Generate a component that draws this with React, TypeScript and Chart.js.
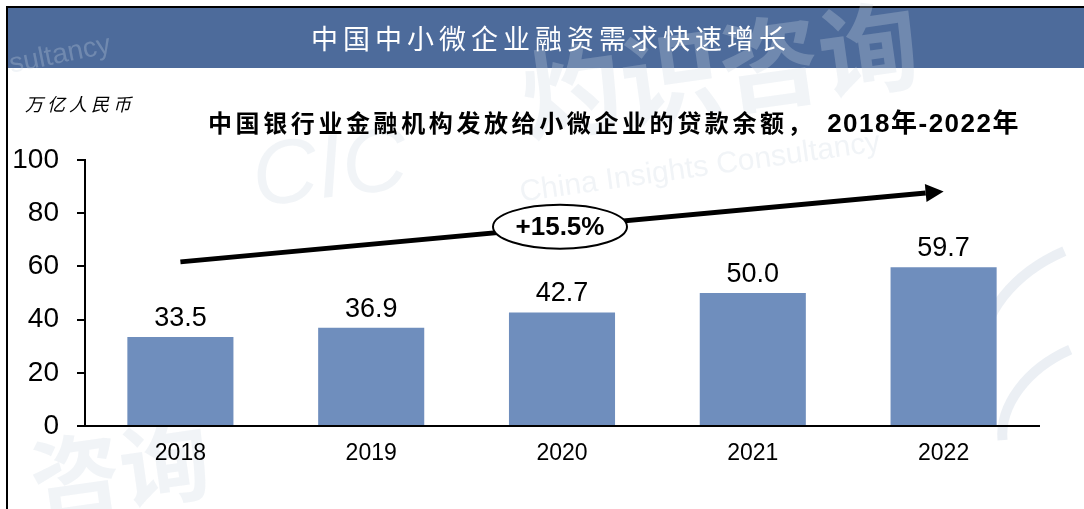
import React, { useEffect, useRef } from "react";
import { Chart, registerables } from "chart.js";

Chart.register(...registerables);

const categories = ["2018", "2019", "2020", "2021", "2022"];
const loanBalance = [33.5, 36.9, 42.7, 50.0, 59.7];
const yTicks = [0, 20, 40, 60, 80, 100];
const cagrLabel = "+15.5%";
const arrowFrom = [0, 61.7]; // [category index, value]
const arrowTo = [4, 88.2];
const headerTitle = "中国中小微企业融资需求快速增长";
const subTitle = "中国银行业金融机构发放给小微企业的贷款余额，";
const subTitleYears = "2018年-2022年";
const unitLabel = "万亿人民币";

const W = 1084;
const H = 509;

const framePlugin = {
  id: "frame",
  beforeDraw(chart: any) {
    const ctx = chart.ctx;
    ctx.save();
    ctx.fillStyle = "#ffffff";
    ctx.fillRect(0, 0, W, H);
    // header band
    ctx.fillStyle = "#4d6b9b";
    ctx.fillRect(8, 8, W - 8, 60);
    // frame lines
    ctx.fillStyle = "#000000";
    ctx.fillRect(6, 6, W - 6, 2);
    ctx.fillRect(6, 6, 2, H - 6);

    // watermarks
    ctx.fillStyle = "rgba(205,214,228,0.28)";
    ctx.textAlign = "center";
    ctx.textBaseline = "middle";
    ctx.save();
    ctx.translate(330, 172);
    ctx.rotate(-0.12);
    ctx.font = "italic 90px 'Liberation Sans', sans-serif";
    ctx.fillText("CIC", 0, 0);
    ctx.restore();
    ctx.save();
    ctx.translate(700, 168);
    ctx.rotate(-0.14);
    ctx.font = "30px 'Liberation Sans', sans-serif";
    ctx.fillText("China Insights Consultancy", 0, 0);
    ctx.restore();
    ctx.save();
    ctx.translate(720, 70);
    ctx.rotate(-0.14);
    ctx.font = "bold 100px 'Noto Sans CJK SC', sans-serif";
    ctx.fillText("灼识咨询", 0, 0);
    ctx.restore();
    ctx.save();
    ctx.translate(120, 470);
    ctx.rotate(-0.14);
    ctx.font = "bold 90px 'Noto Sans CJK SC', sans-serif";
    ctx.fillText("咨询", 0, 0);
    ctx.restore();
    ctx.save();
    ctx.translate(60, 55);
    ctx.rotate(-0.2);
    ctx.font = "28px 'Liberation Sans', sans-serif";
    ctx.fillText("sultancy", 0, 0);
    ctx.restore();
    ctx.strokeStyle = "rgba(205,214,228,0.4)";
    ctx.lineWidth = 10;
    ctx.beginPath();
    ctx.ellipse(1110, 330, 130, 90, -0.3, Math.PI * 1.05, Math.PI * 1.45);
    ctx.stroke();
    ctx.beginPath();
    ctx.ellipse(1110, 420, 110, 80, -0.3, Math.PI * 1.05, Math.PI * 1.45);
    ctx.stroke();

    // header title
    ctx.fillStyle = "#ffffff";
    ctx.textAlign = "center";
    ctx.textBaseline = "middle";
    ctx.font = "27px 'Noto Sans CJK SC', sans-serif";
    (ctx as any).letterSpacing = "5px";
    ctx.fillText(headerTitle, 551, 39);
    // unit label
    ctx.fillStyle = "#000000";
    ctx.textAlign = "left";
    ctx.font = "italic 18px 'Noto Sans CJK SC', sans-serif";
    (ctx as any).letterSpacing = "4px";
    ctx.fillText(unitLabel, 25, 104);
    // subtitle
    (ctx as any).letterSpacing = "3.6px";
    ctx.font = "bold 24px 'Liberation Sans', 'Noto Sans CJK SC', sans-serif";
    ctx.fillText(subTitle, 208, 125);
    (ctx as any).letterSpacing = "1.5px";
    ctx.textAlign = "right";
    ctx.font = "bold 26px 'Liberation Sans', 'Noto Sans CJK SC', sans-serif";
    ctx.fillText(subTitleYears, 1020, 125);
    ctx.restore();
  },
  afterDatasetsDraw(chart: any) {
    const ctx = chart.ctx;
    const xs = chart.scales.x;
    const ys = chart.scales.y;
    ctx.save();
    // data labels
    const meta = chart.getDatasetMeta(0);
    ctx.fillStyle = "#000000";
    ctx.font = "27px 'Liberation Sans', sans-serif";
    ctx.textAlign = "center";
    ctx.textBaseline = "alphabetic";
    meta.data.forEach((bar: any, i: number) => {
      ctx.fillText(loanBalance[i].toFixed(1), bar.x, bar.y - 11);
    });
    // CAGR arrow
    const x0 = xs.getPixelForValue(arrowFrom[0]);
    const y0 = ys.getPixelForValue(arrowFrom[1]);
    const x1 = xs.getPixelForValue(arrowTo[0]);
    const y1 = ys.getPixelForValue(arrowTo[1]);
    const ang = Math.atan2(y1 - y0, x1 - x0);
    const headLen = 18;
    const headHalf = 9;
    const bx = x1 - headLen * Math.cos(ang);
    const by = y1 - headLen * Math.sin(ang);
    ctx.strokeStyle = "#000000";
    ctx.lineWidth = 5;
    ctx.beginPath();
    ctx.moveTo(x0, y0);
    ctx.lineTo(bx, by);
    ctx.stroke();
    ctx.beginPath();
    ctx.moveTo(x1, y1);
    ctx.lineTo(bx + headHalf * Math.sin(ang), by - headHalf * Math.cos(ang));
    ctx.lineTo(bx - headHalf * Math.sin(ang), by + headHalf * Math.cos(ang));
    ctx.closePath();
    ctx.fillStyle = "#000000";
    ctx.fill();
    // ellipse label
    const cx = (x0 + x1) / 2 - 2;
    const cy = (y0 + y1) / 2;
    ctx.beginPath();
    ctx.ellipse(cx, cy, 67, 22, 0, 0, Math.PI * 2);
    ctx.fillStyle = "#ffffff";
    ctx.fill();
    ctx.lineWidth = 2;
    ctx.stroke();
    ctx.fillStyle = "#000000";
    ctx.font = "bold 26px 'Liberation Sans', sans-serif";
    ctx.textBaseline = "middle";
    ctx.fillText(cagrLabel, cx, cy + 1);
    ctx.restore();
  },
};

export default function App() {
  const ref = useRef<HTMLCanvasElement>(null);
  useEffect(() => {
    if (!ref.current) return;
    const chart = new Chart(ref.current, {
      type: "bar",
      data: {
        labels: categories,
        datasets: [
          {
            data: loanBalance,
            backgroundColor: "#6f8ebd",
            categoryPercentage: 1,
            barPercentage: 0.556,
          },
        ],
      },
      options: {
        responsive: false,
        animation: false,
        events: [],
        layout: { padding: { top: 160, right: 45, bottom: 0, left: 0 } },
        plugins: {
          legend: { display: false },
          tooltip: { enabled: false },
          title: { display: false },
        },
        scales: {
          x: {
            grid: { display: false },
            border: { display: true, color: "#000000", width: 2 },
            ticks: {
              color: "#000000",
              padding: 6,
              font: { family: "'Liberation Sans', sans-serif", size: 23 },
            },
            afterFit(scale: any) {
              scale.height = 83;
            },
          },
          y: {
            min: 0,
            max: 100,
            afterBuildTicks(scale: any) {
              scale.ticks = yTicks.map((v) => ({ value: v }));
            },
            grid: {
              display: true,
              drawOnChartArea: false,
              drawTicks: true,
              tickLength: 8,
              color: "#000000",
              lineWidth: 2,
            },
            border: { display: true, color: "#000000", width: 2 },
            ticks: {
              color: "#000000",
              padding: 18,
              font: { family: "'Liberation Sans', sans-serif", size: 28 },
            },
            afterFit(scale: any) {
              scale.width = 85;
            },
          },
        },
      },
      plugins: [framePlugin],
    });
    return () => chart.destroy();
  }, []);
  return (
    <div style={{ position: "fixed", left: 0, top: 0, width: W, height: H }}>
      <canvas ref={ref} width={W} height={H} style={{ display: "block" }} />
    </div>
  );
}
